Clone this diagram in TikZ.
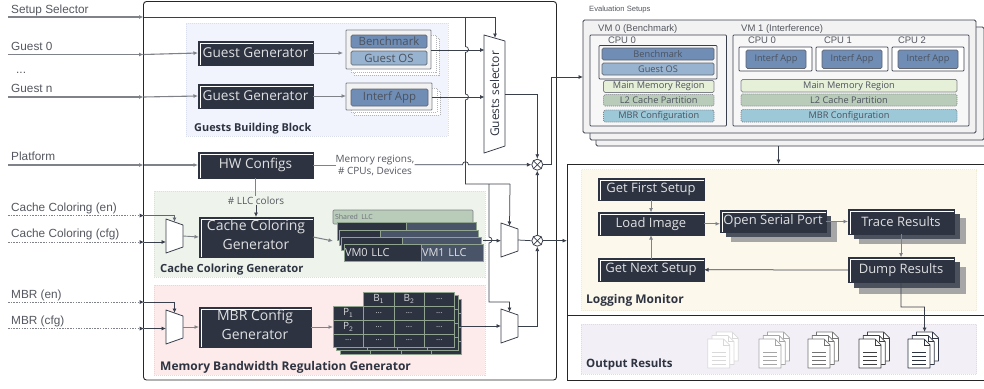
\documentclass[tikz,border=0pt]{standalone}
\usepackage{fontspec}
\setmainfont{Open Sans}
\newfontfamily\arialf{Liberation Sans}
\usetikzlibrary{arrows.meta,calc}
\definecolor{dk}{HTML}{2D3340}
\definecolor{sl}{HTML}{4A5468}
\definecolor{ln}{HTML}{3A3F4C}
\definecolor{gl}{HTML}{7F8288}
\definecolor{tx}{HTML}{555860}
\definecolor{bmk}{HTML}{6F8DB5}
\definecolor{gos}{HTML}{97B3CF}
\definecolor{mmr}{HTML}{E6EFD8}
\definecolor{ltwo}{HTML}{B9CBB9}
\definecolor{mbr}{HTML}{9CC8D8}
\definecolor{sage}{HTML}{8FA38F}
\definecolor{zb}{HTML}{F1F4FC}\definecolor{zbd}{HTML}{D8DEEE}
\definecolor{zg}{HTML}{EEF4EC}\definecolor{zgd}{HTML}{D6E4D2}
\definecolor{zr}{HTML}{FDEBEB}\definecolor{zrd}{HTML}{F5D2D2}
\definecolor{zy}{HTML}{FDF8EC}\definecolor{zyd}{HTML}{F6EAD0}
\definecolor{zv}{HTML}{F2EFF7}\definecolor{zvd}{HTML}{DFD9EA}
\newcommand\fs[1]{\fontsize{#1}{#1}\selectfont}
\newcommand\bx[7][]{%
  \pgfmathsetmacro\cxx{((#3)+(#5))/2}\pgfmathsetmacro\cyy{((#4)+(#6))/2}%
  \pgfmathsetmacro\wdd{(#5)-(#3)}\pgfmathsetmacro\htt{(#6)-(#4)}%
  \node[#7,minimum width=\wdd pt,minimum height=\htt pt,inner sep=0pt,outer sep=0pt] (#2) at (\cxx,\cyy) {\raisebox{-1pt}{#1}};}
\newcommand\mux[5]{% name, x0, x1, ytop, ybottom (left side)
  \pgfmathsetmacro\cyy{(#4+#5)/2}%
  \pgfmathsetmacro\wdd{#3-#2}\pgfmathsetmacro\htt{#5-#4}\pgfmathsetmacro\cxx{(#2+#3)/2}%
  \draw[muxline] (#2,#4) -- (#3,#4+6) -- (#3,#5-6) -- (#2,#5) -- cycle;
  \node[minimum width=\wdd pt,minimum height=\htt pt,inner sep=0pt,outer sep=0pt] (#1) at (\cxx,\cyy) {};
  \coordinate (#1top) at (\cxx,#4+3);}
\newcommand\docpage[3]{% x,y,colour
  \draw[#3,fill=white,line width=.7pt,line join=round] (#1,#2) -- (#1+16,#2) -- (#1+22,#2+6) -- (#1+22,#2+29) -- (#1,#2+29) -- cycle;
  \draw[#3,line width=.6pt] (#1+16,#2) -- (#1+16,#2+6) -- (#1+22,#2+6);}
\newcommand\docicon[3]{%
  \docpage{#1+8.5}{#2-7}{#3}\docpage{#1+4.2}{#2-3.5}{#3}\docpage{#1}{#2}{#3}
  \foreach \q in {13,17,21,25}{\draw[#3,line width=.8pt] (#1+4,#2+\q) -- (#1+18,#2+\q);}}
\tikzset{
  x=1pt,y=-1pt,
  frame/.style={draw=black!85,fill=white,line width=.9pt,rounded corners=3pt},
  tip/.style={-{Latex[length=4.5pt,width=4pt]}},
  wire/.style={ln,line width=.75pt},
  gwire/.style={gl,line width=1.1pt},
  dwire/.style={gl,line width=.7pt,dash pattern=on 1.5pt off 1.2pt},
  muxline/.style={draw=ln,fill=white,line width=.8pt,line join=round},
  xcirc/.style={circle,draw=ln,fill=white,line width=.8pt,minimum size=11pt,inner sep=0pt},
  darkbox/.style={fill=dk,draw=dk,line width=.4pt,text=white!85!dk,
    path picture={\draw[white,line width=.6pt]
      ([xshift=1.8pt]path picture bounding box.south west) -- ([xshift=1.8pt,yshift=-1.8pt]path picture bounding box.north west) -- ([yshift=-1.8pt]path picture bounding box.north east);}},
  zone/.style={line width=.5pt,dash pattern=on 1pt off 1pt},
  inlab/.style={font=\arialf\fs{11.8},text=tx,anchor=base west,inner sep=0pt},
  vmlab/.style={font=\arialf\fs{9.5},text=tx,anchor=base west,inner sep=0pt},
  zonelab/.style={font=\bfseries\fs{11.5},text=dk,anchor=base west,inner sep=0pt},
  small/.style={font=\arialf\fs{10},text=tx,inner sep=0pt},
  pill/.style={draw=ln!80,line width=.7pt,rounded corners=1.5pt,text=dk!85,font=\fs{9.2}},
  stackbk/.style={draw=gl!60,fill=white,line width=.5pt,dash pattern=on 1pt off 1pt},
  stackfr/.style={draw=gl,fill=white!90!gl,line width=.8pt,rounded corners=.8pt},
  cpubox/.style={draw=ln,fill=white,line width=.7pt,rounded corners=.8pt},
  vmbox/.style={draw=ln,fill=white!90!gl,line width=.8pt,rounded corners=1.5pt},
  mbrcell/.style={draw=sage,fill=dk,line width=.8pt,text=white!80!dk,font=\fs{8}},
}
\begin{document}
\begin{tikzpicture}
\useasboundingbox (0,0) rectangle (984,388);
\clip (0,0) rectangle (984,388);
\fill[white] (0,0) rectangle (984,388);
% frames
\bx{mainbox}{143.5}{1.5}{556.5}{380}{frame}
\bx{logbox}{567}{164}{1000}{315}{frame,rounded corners=0pt}
\bx{outbox}{567}{315}{1000}{380}{frame,rounded corners=0pt}
% zones
\bx{zguest}{186}{23}{448}{136}{zone,fill=zb,draw=zbd}
\bx{zcache}{154}{191}{485}{277}{zone,fill=zg,draw=zgd}
\bx{zmbr}{154}{285}{485}{375}{zone,fill=zr,draw=zrd}
\bx{zlog}{581}{169.5}{976.5}{310.5}{zone,fill=zy,draw=zyd}
\bx{zout}{581}{324}{976.5}{374}{zone,fill=zv,draw=zvd}
\node[zonelab,font=\bfseries\fs{10.9}] (lguest) at (194,131) {Guests Building Block};
\node[zonelab,font=\bfseries\fs{11.2}] (lcache) at (160,272) {Cache Coloring Generator};
\node[zonelab,font=\bfseries\fs{12}] (lmbr) at (160,370) {Memory Bandwidth Regulation Generator};
\node[zonelab,font=\bfseries\fs{12}] (llog) at (586,303) {Logging Monitor};
\node[zonelab] (lout) at (586,367) {Output Results};
% input labels
\node[inlab] (tsel) at (11,13) {Setup Selector};
\node[inlab] (tg0) at (11,50) {Guest 0};
\node[inlab] (tdots) at (16,73) {...};
\node[inlab] (tgn) at (11,92) {Guest n};
\node[inlab] (tplat) at (11,160) {Platform};
\node[inlab] (tccen) at (11,211) {Cache Coloring (en)};
\node[inlab] (tcccfg) at (11,237) {Cache Coloring (cfg)};
\node[inlab] (tmen) at (11,298) {MBR (en)};
\node[inlab] (tmcfg) at (11,324) {MBR (cfg)};
% generators
\bx[\fs{13.6}Guest Generator]{gg0}{198}{41}{313}{65}{darkbox}
\bx[\fs{13.6}Guest Generator]{ggn}{198}{84}{313}{108}{darkbox}
\bx[\fs{13.6}HW Configs]{hw}{198}{152}{313}{178}{darkbox}
\bx[{\fs{14}\begin{tabular}{@{}c@{}}Cache Coloring\\[4.5pt]Generator\end{tabular}}]{ccg}{199}{217}{313}{257}{darkbox}
\bx[{\fs{14}\begin{tabular}{@{}c@{}}MBR Config\\[4.5pt]Generator\end{tabular}}]{mcg}{199}{307}{311}{347}{darkbox}
% guest stacks
\bx{bmb2}{354}{38}{439}{75}{stackbk}
\bx{bmb1}{351}{35}{436}{72}{stackbk}
\bx{bmf}{346}{30}{431}{69}{stackfr}
\bx[\fs{11.4}Benchmark]{bm}{351}{35}{427}{48}{pill,fill=bmk}
\bx[\fs{11.4}Guest OS]{gos}{351}{51}{427}{65}{pill,fill=gos}
\bx{ifb2}{354}{91}{440}{115}{stackbk}
\bx{ifb1}{351}{88}{437}{112}{stackbk}
\bx{iff}{346}{83}{432}{110}{stackfr}
\bx[\fs{11.4}Interf App]{ia}{351}{89}{428}{106}{pill,fill=bmk}
% muxes
\draw[muxline] (484,35) -- (505,41) -- (505,146) -- (484,153) -- cycle;
\node[rotate=90,font=\fs{12},text=dk,minimum width=118pt,minimum height=21pt,inner sep=0pt,outer sep=0pt] (gsel) at (494.5,94) {Guests selector};
\mux{mcc}{166}{183}{219}{253}
\mux{mmb}{166}{183}{310}{344}
\mux{mup}{501}{518}{223}{257}
\mux{mlo}{501}{518}{309}{343}
% llc
\bx[\fs{7}\color{dk!70}Shared LLC]{sllc}{333}{210}{473}{224}{fill=ltwo,draw=gl,line width=.7pt,rounded corners=1pt,text width=136pt,align=left}
\tikzset{dc/.style={fill=dk,draw=sage,line width=.8pt},sc/.style={fill=sl,draw=sage,line width=.8pt},
 vll/.style={text=white!85!dk,font=\fs{11},align=left}}
\bx{l1a}{337}{222}{406}{240}{dc}\bx{l1b}{406}{222}{476}{240}{sc}
\bx{l2a}{339}{230.5}{380}{245}{dc}\bx{l2b}{380}{230.5}{478}{245}{sc}
\bx{l3a}{341}{237}{402}{250}{dc}\bx{l3b}{402}{237}{481}{250}{sc}
\bx[VM0 LLC]{l4a}{344}{244.5}{421}{261}{dc,vll,text width=75pt}\bx[VM1 LLC]{l4b}{421}{244.5}{483}{261}{sc,vll,text width=60pt}
% mbr table
\foreach \off/\nm in {7/c,3.5/b}{
 \foreach \xa/\xb/\kk in {363.5/394/i,394/424/j,424/454.5/k}{
  \bx{t\nm\kk}{\xa+\off}{292+\off}{\xb+\off}{306+\off}{mbrcell}
  \bx{u\nm\kk}{\xa+\off}{306+\off}{\xb+\off}{320+\off}{mbrcell}
  \bx{v\nm\kk}{\xa+\off}{320+\off}{\xb+\off}{334+\off}{mbrcell}
  \bx{w\nm\kk}{\xa+\off}{334+\off}{\xb+\off}{347+\off}{mbrcell}}
 \bx{p\nm}{333+\off}{306+\off}{363.5+\off}{347+\off}{mbrcell}}
\bx[\fs{10}B$_{\mathsf 1}$]{b1}{363.5}{292}{394}{306}{mbrcell}
\bx[\fs{10}B$_{\mathsf 2}$]{b2}{394}{292}{424}{306}{mbrcell}
\bx[...]{b3}{424}{292}{454.5}{306}{mbrcell}
\bx[\fs{10}P$_{\mathsf 1}$]{p1}{333}{306}{363.5}{320}{mbrcell}
\bx[\fs{10}P$_{\mathsf 2}$]{p2}{333}{320}{363.5}{334}{mbrcell}
\bx[...]{p3}{333}{334}{363.5}{347}{mbrcell}
\foreach \xa/\xb/\kk in {363.5/394/i,394/424/j,424/454.5/k}{
 \bx[...]{ca\kk}{\xa}{306}{\xb}{320}{mbrcell}
 \bx[...]{cb\kk}{\xa}{320}{\xb}{334}{mbrcell}
 \bx[...]{cc\kk}{\xa}{334}{\xb}{347}{mbrcell}}
% circles
\node[xcirc] (cx1) at (537.3,164.7) {};
\node[xcirc] (cx2) at (537.3,240.7) {};
\draw[ln,line width=.7pt] (cx1.north west) -- (cx1.south east) (cx1.north east) -- (cx1.south west);
\draw[ln,line width=.7pt] (cx2.north west) -- (cx2.south east) (cx2.north east) -- (cx2.south west);
% coordinates
\coordinate (s0) at (8,17);\coordinate (s1) at (143.5,17);
\coordinate (g0) at (8,54.5);\coordinate (g0b) at (143.5,54.5);
\coordinate (gn) at (8,97);\coordinate (gnb) at (143.5,97);
\coordinate (pl) at (8,165);\coordinate (plb) at (143.5,165);
\coordinate (ce) at (8,215.5);\coordinate (ceb) at (143.5,215.5);
\coordinate (cc) at (8,242);\coordinate (ccb) at (143.5,242);
\coordinate (me) at (8,302);\coordinate (meb) at (143.5,302);
\coordinate (mc) at (8,328.5);\coordinate (mcb) at (143.5,328.5);
% inputs
\draw[gwire,tip] (s0) -- (s1);
\draw[gwire,tip] (g0) -- (g0b);\draw[gwire,tip] (g0b) -- (gg0.west);
\draw[gwire,tip] (gn) -- (gnb);\draw[gwire,tip] (gnb) -- (ggn.west);
\draw[gwire,tip] (pl) -- (plb);\draw[gwire,tip] (plb) -- (hw.west);
\draw[dwire] (ce) -- (ceb);\draw[dwire] (cc) -- (ccb);\draw[dwire] (me) -- (meb);\draw[dwire] (mc) -- (mcb);
\fill[ln] (143.5,215.5) -- ++(-4,-2) -- ++(0,4) -- cycle;
\fill[ln] (143.5,242) -- ++(-4,-2) -- ++(0,4) -- cycle;
\fill[ln] (143.5,302) -- ++(-4,-2) -- ++(0,4) -- cycle;
\fill[ln] (143.5,328.5) -- ++(-4,-2) -- ++(0,4) -- cycle;
\draw[wire,line width=1pt,tip,gl!60!ln] (ceb) -| (mcctop);
\draw[wire,tip] (ccb) -- (mcc.west |- ccb);
\draw[wire,tip] (meb) -| (mmbtop);
\draw[wire,tip] (mcb) -- (mmb.west |- mcb);
\draw[gwire,tip,line width=.9pt] (mcc.east) -- (ccg.west);
\draw[gwire,tip,line width=.9pt] (mmb.east) -- (mcg.west);
\draw[gwire,tip,line width=1pt,shorten >=3pt] (gg0.east) -- (bmf.west |- gg0.east);
\draw[gwire,tip,line width=1pt] (ggn.east) -- (iff.west |- ggn.east);
% selector line
\coordinate (gseltop) at (495,38);
\draw[wire,tip] (s1) -| (gseltop);
\coordinate (vj) at (465.5,17);
\draw[wire] (vj) -- (465.5,46.5) arc (90:-90:3pt) -- (465.5,94) arc (90:-90:3pt) -- (465.5,184) coordinate (vb) -- (510,184) coordinate (vc);
\coordinate (mupin) at (509.5,226);
\draw[wire,tip] (vc) -- (mupin);
\coordinate (vd) at (489,184);
\coordinate (mlotop2) at (509.5,312);
\draw[wire,tip] (vd) -- (489,237) arc (90:-90:3pt) -- (489,302) -| (mlotop2);
% stack to selector
\coordinate (gs50) at (484.5,50);\coordinate (gs97) at (484.5,97);
\draw[wire,tip] (bmf.east |- gs50) -- (gs50);
\draw[wire,tip] (iff.east |- gs97) -- (gs97);
\draw[wire,tip] (505,94) -| (cx1.north);
% hw
\node[small,font=\fs{10},align=center] (memlab) at (375,165.5) {Memory regions,\\[2.5pt]\# CPUs, Devices};
\draw[gwire,line width=1pt] (hw.east) -- (memlab.west |- hw.east);
\draw[wire,tip] (memlab.east |- cx1) -- (462.5,164.7) arc (180:0:3pt) -- (cx1.west);
\node[small,font=\fs{10}] (llcl) at (256,200.5) {\# LLC colors};
\draw[gwire,line width=1pt] (hw.south) -- (llcl.north -| hw.south);
\draw[wire,tip] (llcl.south -| ccg.north) -- (ccg.north);
% into llc/mbr
\draw[gwire,tip,line width=1pt] (ccg.east) -- (333,241) coordinate (llcin);
\draw[wire,tip] (483,240.7) coordinate (llcout) -- (mup.west |- llcout);
\draw[gwire,tip,line width=1pt] (mcg.east) -- (333,327) coordinate (tin);
\draw[wire,tip] (461,326) coordinate (tout) -- (mlo.west |- tout);
\draw[wire] (mup.east) -- (cx2.west);
\draw[wire,tip] (mlo.east) -| (cx2.south);
\draw[wire,tip] (cx2.north) -- (cx1.south);
\draw[wire,tip] (cx1.east) -- (551,164.7) -- (551,77) coordinate (ve) -- (583,77) coordinate (vmin);
\draw[wire,tip] (cx2.east) -- (logbox.west |- cx2);
% eval setups
\node[small,font=\arialf\fs{7.6},anchor=base west] (evl) at (589,12) {Evaluation Setups};
\bx{vmb2}{596}{33}{990}{146}{vmbox}
\bx{vmb1}{590}{27}{984}{140}{vmbox}
\bx{vmf}{583}{20}{976}{133}{vmbox,line width=.9pt}
\bx{vm0}{590}{35}{726.5}{126}{cpubox,fill=white!94!gl}
\bx{vm1}{733}{35}{969}{126}{cpubox,fill=white!94!gl}
\node[vmlab] (tvm0) at (598,31) {VM 0 (Benchmark)};
\node[vmlab] (tvm1) at (741,31) {VM 1 (Interference)};
\node[vmlab,anchor=base] (tc00) at (622,43.5) {CPU 0};
\bx{cpu00}{599}{45.5}{717}{79}{cpubox,fill=white!92!gl}
\bx[Benchmark]{vbm}{602}{48}{714}{60}{pill,fill=bmk}
\bx[Guest OS]{vgo}{602}{63}{714}{75}{pill,fill=gos}
\bx[Main Memory Region]{mm0}{603.5}{80.5}{714}{92.5}{pill,fill=mmr,draw=gl}
\bx[L2 Cache Partition]{l20}{603.5}{94.5}{714}{106}{pill,fill=ltwo,draw=gl,dash pattern=on 1pt off 1pt}
\bx[MBR Configuration]{mb0}{603.5}{110}{714}{122}{pill,fill=mbr,draw=gl,dash pattern=on 1pt off 1pt}
\node[vmlab,anchor=base] (tc10) at (762,43.5) {CPU 0};
\node[vmlab,anchor=base] (tc11) at (838,43.5) {CPU 1};
\node[vmlab,anchor=base] (tc12) at (912,43.5) {CPU 2};
\bx{c10}{739}{47}{812}{71}{cpubox}\bx{c11}{816}{47}{888}{71}{cpubox}\bx{c12}{892}{47}{964}{71}{cpubox}
\bx[Interf App]{i10}{746}{50}{806}{68.5}{pill,fill=bmk}
\bx[Interf App]{i11}{822}{50}{882}{68.5}{pill,fill=bmk}
\bx[Interf App]{i12}{898}{50}{958}{68.5}{pill,fill=bmk}
\bx[Main Memory Region]{mm1}{741}{79.5}{957}{92}{pill,fill=mmr,draw=gl}
\bx[L2 Cache Partition]{l21}{741}{94}{957}{106}{pill,fill=ltwo,draw=gl,dash pattern=on 1pt off 1pt}
\bx[MBR Configuration]{mb1}{741}{109.5}{957}{122}{pill,fill=mbr,draw=gl,dash pattern=on 1pt off 1pt}
\coordinate (vmbot) at (778.5,146);
\draw[wire,tip] (vmbot) -- (logbox.north -| vmbot);
% logging
\tikzset{sh1/.style={fill=dk!85!white,draw=none},sh2/.style={fill=black!35,draw=none},lg/.style={darkbox,font=\fs{13}}}
\bx{os2}{731}{221.5}{837}{242}{sh2}\bx{os1}{725.5}{216}{831}{237}{sh1}
\bx{tr2}{859}{218}{966}{244}{sh2}\bx{tr1}{853.5}{214}{960}{239}{sh1}
\bx{du2}{859}{267}{966}{293.5}{sh2}\bx{du1}{853.5}{262}{960}{288}{sh1}
\bx[Get First Setup]{first}{598}{178}{704}{200}{lg}
\bx[Load Image]{load}{598}{212.5}{704}{235}{lg}
\bx[Get Next Setup]{next}{598}{258.5}{704}{281}{lg}
\bx[Open Serial Port]{open}{720}{210.5}{826}{232.5}{lg}
\bx[Trace Results]{trace}{848}{209}{954}{234}{lg}
\bx[Dump Results]{dump}{848}{257.5}{954}{282.5}{lg}
\coordinate (tr0) at (900.7,234);
\draw[gwire,tip,line width=.9pt] (first.south) -- (load.north);
\draw[gwire,tip,line width=.9pt] (load.east) -- (open.west |- load.east);
\draw[gwire,tip,line width=.9pt] (open.east) -- (trace.west |- open.east);
\draw[gwire,tip,line width=.9pt] (trace.south) -- (dump.north);
\draw[wire,tip] (dump.west) -- (next.east);
\draw[gwire,tip,line width=1pt] (next.north) -- (load.south);
% docs
\docicon{707.7}{339}{black!15}
\docicon{759}{339}{black!35}
\docicon{808}{339}{black!55}
\docicon{859}{339}{black!75}
\docicon{908}{339}{dk}
\coordinate (docin) at (924.6,332);
\draw[wire,tip] (dump.south) -- (900.9,307) -- (924.6,307) -- (docin);
\end{tikzpicture}
\end{document}
